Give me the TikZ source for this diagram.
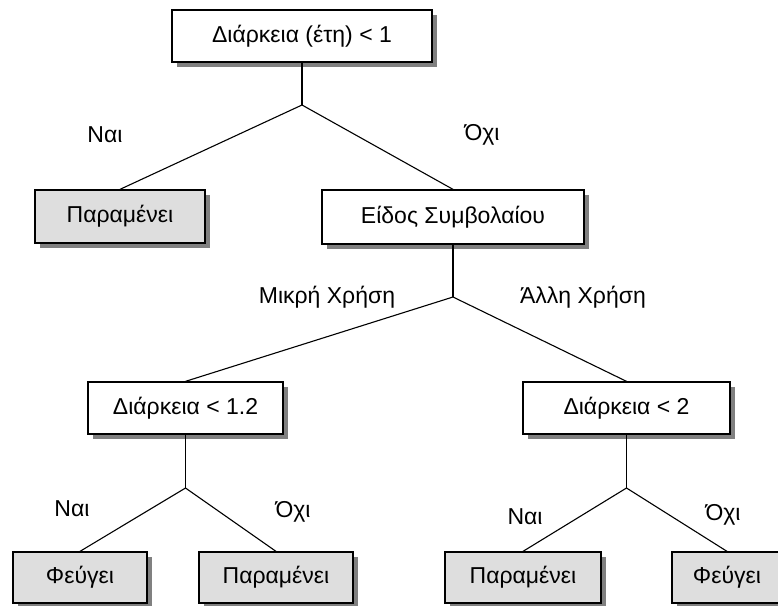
\documentclass[tikz,border=0pt]{standalone}
\usepackage{fontspec}
\setmainfont{Liberation Sans}
\usetikzlibrary{shadows}
\begin{document}
\begin{tikzpicture}[x=1pt,y=-1pt,
  box/.style={draw=black, line width=1.3pt, fill=white, inner sep=0pt,
    font=\fontsize{23}{27}\selectfont,
    drop shadow={shadow xshift=5pt, shadow yshift=-5pt, fill=black!50, opacity=1}},
  leaf/.style={box, fill=black!13},
  conn/.style={line width=1.1pt},
  lbl/.style={font=\fontsize{23}{27}\selectfont, inner sep=0pt}]
\useasboundingbox (0,0) rectangle (778,605);
% nodes
\node[box, minimum width=260pt, minimum height=52pt] (root) at (302,36) {Διάρκεια (έτη) < 1};
\node[leaf, minimum width=170pt, minimum height=53pt] (p1) at (120,216.5) {Παραμένει};
\node[box, minimum width=262pt, minimum height=54pt] (eidos) at (453,217) {Είδος Συμβολαίου};
\node[box, minimum width=195pt, minimum height=52pt] (d12) at (185.5,408) {Διάρκεια < 1.2};
\node[box, minimum width=207pt, minimum height=52pt] (d2) at (626.5,408) {Διάρκεια < 2};
\node[leaf, minimum width=134pt, minimum height=51pt] (f1) at (80,577.5) {Φεύγει};
\node[leaf, minimum width=154pt, minimum height=51pt] (p2) at (276,577.5) {Παραμένει};
\node[leaf, minimum width=156pt, minimum height=51pt] (p3) at (523,577.5) {Παραμένει};
\node[leaf, minimum width=110pt, minimum height=51pt] (f4) at (727,577.5) {Φεύγει};
% junctions
\coordinate (j1) at (302,105);
\coordinate (j2) at (453,297);
\coordinate (j3) at (185.5,488);
\coordinate (j4) at (626.5,488);
% connectors
\draw[conn] (root.south) -- (j1);
\draw[conn] (j1) -- (p1.north);
\draw[conn] (j1) -- (eidos.north);
\draw[conn] (eidos.south) -- (j2);
\draw[conn] (j2) -- (d12.north);
\draw[conn] (j2) -- (d2.north);
\draw[conn] (d12.south) -- (j3);
\draw[conn] (j3) -- (f1.north);
\draw[conn] (j3) -- (p2.north);
\draw[conn] (d2.south) -- (j4);
\draw[conn] (j4) -- (p3.north);
\draw[conn] (j4) -- (f4.north);
% labels
\node[lbl] (l1) at (105,135) {Ναι};
\node[lbl] (l2) at (482,135) {Όχι};
\node[lbl] (l3) at (327,297) {Μικρή Χρήση};
\node[lbl] (l4) at (583,297) {Άλλη Χρήση};
\node[lbl] (l5) at (72,509) {Ναι};
\node[lbl] (l6) at (293,512) {Όχι};
\node[lbl] (l7) at (525,517) {Ναι};
\node[lbl] (l8) at (723,515) {Όχι};
\end{tikzpicture}
\end{document}
